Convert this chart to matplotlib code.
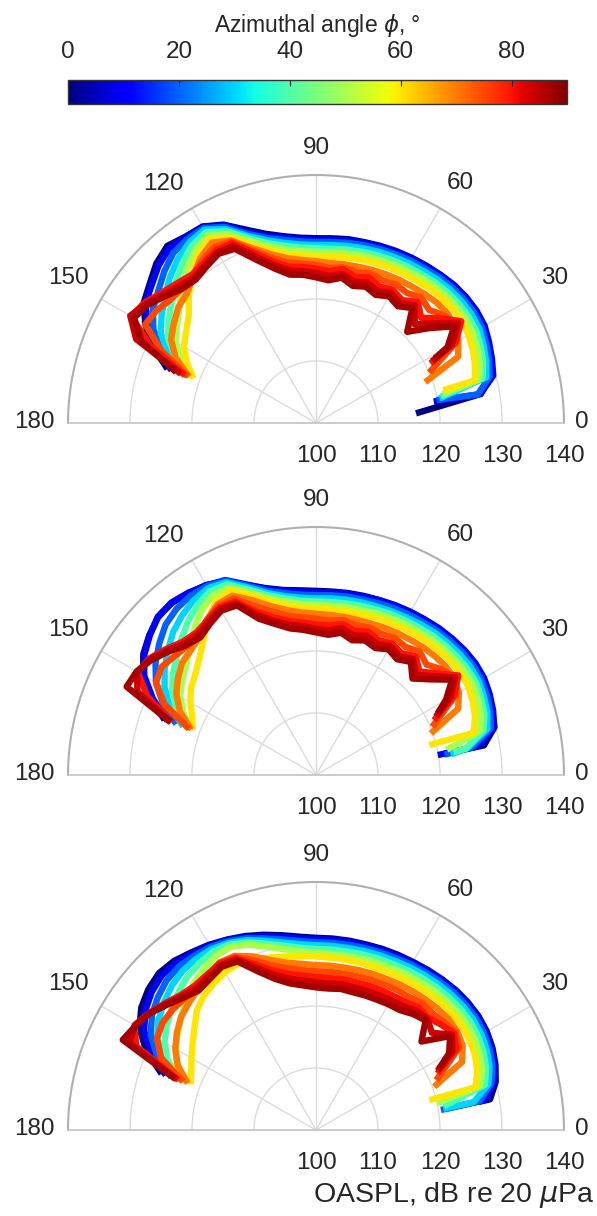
import numpy as np
import matplotlib
matplotlib.use('Agg')
import matplotlib.pyplot as plt
from matplotlib import cm, colors
from matplotlib.transforms import ScaledTranslation

plt.rcParams['font.family'] = ['Liberation Sans', 'DejaVu Sans']
plt.rcParams['mathtext.fontset'] = 'dejavusans'

nan = float('nan')

# ------------------------------------------------------------
# data: OASPL (dB) vs polar angle theta (deg), one row per azimuth phi
# ------------------------------------------------------------
PHI = [0, 10, 20, 30, 40, 50, 60, 70, 75, 80, 84, 87]

THETA = [10, 15, 20, 25, 30, 35, 40, 45, 50, 55, 60, 65, 70, 75, 80, 85,
         90, 95, 100, 105, 110, 115, 120, 125, 130, 135, 140, 145, 150, 155, 160]

# downstream end point of each curve (theta, OASPL)
tail_theta_a = [5.5, 10.3, 10.8, 11.2, 12.0, 13.0, 14.5, 20.5, 24.0, 27.5, 28.0, 28.5]
tail_spl_a = [116.2, 119.3, 119.8, 120.3, 120.6, 121.0, 121.2, 118.8, 120.0, 120.8, 121.2, 121.8]

spl_a = [
    [127.0, 129.3, 129.8, 130.6, 131.2, 131.4, 131.5, 131.4, 131.2, 131.0, 130.8, 130.6, 130.4, 130.2, 130.1, 129.9,
     129.8, 130.0, 130.6, 131.6, 133.2, 135.3, 136.6, 136.7, 137.3, 136.4, 135.0, 133.9, 131.8, 129.0, 125.5],
    [126.9, 129.6, 130.2, 130.8, 131.4, 131.6, 131.6, 131.5, 131.2, 130.9, 130.7, 130.5, 130.3, 130.1, 129.9, 129.7,
     129.6, 129.8, 130.4, 131.3, 132.9, 135.2, 136.5, 136.6, 136.8, 135.9, 134.6, 133.6, 131.3, 128.3, 124.8],
    [126.5, 129.0, 129.7, 130.3, 130.9, 131.1, 131.1, 131.0, 130.8, 130.5, 130.3, 130.1, 129.9, 129.7, 129.5, 129.3,
     129.2, 129.4, 130.0, 130.9, 132.5, 134.9, 136.3, 136.2, 135.8, 134.6, 133.2, 132.1, 130.3, 127.6, 124.0],
    [nan, 128.4, 129.2, 129.8, 130.4, 130.6, 130.6, 130.5, 130.3, 130.0, 129.8, 129.6, 129.4, 129.2, 129.0, 128.8,
     128.7, 128.9, 129.5, 130.5, 132.1, 134.5, 136.0, 135.6, 134.6, 133.3, 131.8, 130.4, 128.9, 126.2, 123.0],
    [nan, 127.8, 128.7, 129.3, 129.8, 130.0, 130.0, 129.9, 129.7, 129.4, 129.2, 129.0, 128.8, 128.6, 128.4, 128.2,
     128.2, 128.4, 129.0, 130.0, 131.7, 134.1, 135.5, 134.9, 133.6, 132.0, 130.4, 129.0, 127.6, 125.0, 122.2],
    [nan, 127.2, 128.1, 128.7, 129.2, 129.4, 129.4, 129.3, 129.1, 128.8, 128.6, 128.4, 128.2, 128.0, 127.8, 127.6,
     127.6, 127.8, 128.4, 129.5, 131.2, 133.6, 134.9, 134.0, 132.4, 130.6, 128.8, 127.4, 126.2, 124.0, 121.6],
    [nan, 126.5, 127.3, 127.9, 128.4, 128.7, 128.7, 128.6, 128.4, 128.1, 127.9, 127.7, 127.5, 127.3, 127.1, 126.9,
     126.9, 127.1, 127.7, 128.9, 130.6, 133.0, 134.3, 133.2, 131.2, 129.0, 126.8, 125.6, 124.6, 123.0, 121.0],
    [nan, nan, nan, 125.3, 126.5, 127.4, 127.6, 127.5, 127.2, 126.9, 126.7, 126.5, 126.3, 126.1, 126.0, 125.9,
     126.1, 126.4, 127.0, 128.2, 130.0, 132.5, 133.6, 132.5, 130.8, 129.5, 129.0, 128.0, 127.0, 125.0, 121.8],
    [nan, nan, nan, nan, 126.2, 127.6, 127.0, 125.8, 126.4, 125.6, 125.8, 125.4, 125.7, 125.2, 125.5, 125.1,
     125.5, 125.8, 126.3, 127.6, 129.6, 132.3, 132.8, 132.0, 131.0, 130.6, 130.8, 131.5, 131.8, 127.5, 122.0],
    [nan, nan, nan, nan, 126.0, 128.6, 126.3, 124.0, 125.5, 124.2, 124.8, 124.3, 125.0, 124.4, 125.2, 124.6,
     124.9, 125.3, 125.6, 127.0, 129.2, 132.0, 132.2, 131.5, 131.2, 131.8, 132.6, 133.8, 134.4, 129.5, 122.5],
    [nan, nan, nan, nan, 125.3, 128.0, 125.0, 122.5, 124.8, 123.6, 124.2, 123.5, 124.1, 123.6, 124.4, 123.8,
     124.2, 124.6, 125.0, 126.4, 128.6, 131.5, 131.8, 131.1, 130.6, 131.2, 132.2, 133.5, 134.6, 132.0, 123.2],
    [nan, nan, nan, nan, 124.5, 127.2, 123.8, 120.8, 124.2, 123.0, 123.6, 122.8, 123.4, 122.9, 123.8, 123.1,
     123.5, 124.0, 124.3, 125.8, 128.0, 131.0, 131.5, 130.8, 130.2, 130.6, 131.8, 133.2, 133.9, 131.0, 124.0],
]

tail_theta_b = [9.5, 9.3, 9.0, 8.7, 9.5, 11.0, 14.8, 19.9, 22.5, 24.9, 26.0, 26.9]
tail_spl_b = [121.0, 119.9, 121.0, 122.0, 122.5, 121.5, 118.9, 119.7, 120.3, 121.0, 121.5, 122.0]

spl_b = [
    [127.5, 129.8, 130.3, 130.8, 131.2, 131.3, 131.2, 131.0, 130.8, 130.6, 130.4, 130.2, 130.0, 129.9, 129.8, 129.7,
     129.7, 129.9, 130.3, 131.2, 132.6, 134.5, 135.4, 135.8, 136.2, 136.0, 135.1, 134.0, 132.2, 129.5, 126.0],
    [126.5, 129.7, 130.4, 130.9, 131.3, 131.4, 131.3, 131.1, 130.9, 130.6, 130.4, 130.2, 130.0, 129.8, 129.7, 129.6,
     129.5, 129.7, 130.2, 131.1, 132.7, 134.7, 135.3, 135.9, 136.3, 136.1, 135.0, 133.8, 132.0, 129.0, 125.5],
    [125.5, 129.2, 129.9, 130.4, 130.8, 130.9, 130.8, 130.6, 130.4, 130.1, 129.9, 129.7, 129.5, 129.3, 129.2, 129.1,
     129.0, 129.2, 129.8, 130.8, 132.5, 134.6, 135.2, 135.3, 135.0, 134.3, 133.0, 131.6, 129.8, 127.2, 124.0],
    [124.8, 128.6, 129.4, 129.9, 130.3, 130.4, 130.3, 130.1, 129.9, 129.6, 129.3, 129.1, 128.9, 128.8, 128.7, 128.6,
     128.5, 128.7, 129.3, 130.4, 132.2, 134.3, 134.8, 134.4, 133.6, 132.6, 131.2, 129.8, 128.2, 125.9, 122.8],
    [124.5, 128.0, 128.9, 129.4, 129.8, 129.8, 129.7, 129.5, 129.3, 129.0, 128.8, 128.6, 128.4, 128.2, 128.1, 128.0,
     128.0, 128.2, 128.9, 130.0, 131.8, 133.9, 134.2, 133.4, 132.2, 130.8, 129.4, 128.2, 126.8, 124.8, 122.0],
    [nan, 127.4, 128.3, 128.8, 129.2, 129.2, 129.1, 128.9, 128.7, 128.4, 128.2, 128.0, 127.8, 127.6, 127.5, 127.4,
     127.5, 127.7, 128.4, 129.5, 131.3, 133.3, 133.4, 132.3, 130.6, 128.8, 127.4, 126.4, 125.3, 123.6, 121.5],
    [nan, 126.3, 127.3, 127.9, 128.4, 128.5, 128.4, 128.2, 128.0, 127.7, 127.5, 127.3, 127.1, 126.9, 126.9, 126.8,
     126.9, 127.1, 127.8, 129.0, 130.9, 132.8, 132.3, 130.5, 128.3, 126.6, 125.4, 124.6, 123.4, 122.0, 121.2],
    [nan, nan, nan, 125.3, 126.6, 127.2, 127.3, 127.1, 126.9, 126.6, 126.4, 126.2, 126.0, 125.9, 125.9, 125.9,
     126.0, 126.3, 127.0, 128.2, 130.0, 131.9, 131.8, 130.6, 129.2, 128.5, 128.2, 127.2, 126.0, 124.2, 121.4],
    [nan, nan, nan, nan, 126.2, 127.4, 126.5, 125.2, 126.0, 125.2, 125.5, 125.1, 125.3, 125.0, 125.4, 125.0,
     125.2, 125.5, 126.1, 127.3, 129.0, 131.4, 131.5, 130.6, 129.6, 129.4, 129.8, 130.4, 129.8, 127.0, 121.8],
    [nan, nan, nan, nan, 125.8, 128.0, 125.5, 123.6, 125.0, 124.0, 124.5, 124.0, 124.6, 124.1, 124.7, 124.2,
     124.3, 124.7, 125.2, 126.3, 128.0, 130.9, 131.2, 130.5, 130.0, 130.4, 131.6, 132.8, 133.2, 130.0, 124.8],
    [nan, nan, nan, nan, 125.0, 127.4, 124.8, 122.8, 124.4, 123.4, 124.0, 123.3, 123.9, 123.3, 124.0, 123.4,
     123.6, 124.1, 124.6, 125.7, 127.4, 130.5, 130.9, 130.2, 129.6, 130.0, 131.3, 132.6, 133.3, 131.8, 124.9],
    [nan, nan, nan, nan, 124.2, 126.8, 124.0, 122.0, 123.8, 122.8, 123.4, 122.6, 123.1, 122.5, 123.3, 122.7,
     123.0, 123.5, 124.0, 125.2, 126.8, 130.2, 130.6, 129.8, 129.0, 129.6, 131.0, 132.4, 133.4, 133.7, 125.0],
]

tail_theta_c = [9.8, 9.3, 9.1, 9.5, 10.5, 12.5, 14.8, 20.1, 22.5, 25.0, 26.0, 26.5]
tail_spl_c = [126.7, 121.5, 120.4, 120.8, 121.0, 120.0, 118.9, 120.3, 121.0, 121.6, 121.8, 122.2]

spl_c = [
    [128.5, 130.0, 130.8, 131.4, 131.8, 132.0, 132.0, 131.9, 131.7, 131.5, 131.3, 131.2, 131.1, 131.0, 131.0, 131.0,
     131.0, 131.3, 131.9, 132.6, 133.3, 133.9, 134.5, 135.0, 135.6, 135.8, 135.3, 134.4, 132.9, 130.2, 126.5],
    [127.5, 129.8, 130.7, 131.3, 131.7, 131.9, 131.9, 131.8, 131.6, 131.4, 131.2, 131.0, 130.9, 130.8, 130.8, 130.8,
     130.8, 131.1, 131.7, 132.4, 133.2, 133.8, 134.4, 134.8, 135.2, 135.2, 134.6, 133.6, 132.0, 129.3, 125.8],
    [126.8, 129.3, 130.3, 130.9, 131.3, 131.5, 131.5, 131.4, 131.2, 131.0, 130.8, 130.6, 130.5, 130.4, 130.3, 130.3,
     130.3, 130.6, 131.2, 132.0, 132.9, 133.6, 134.1, 134.3, 134.4, 134.1, 133.3, 132.3, 130.8, 128.3, 124.8],
    [125.8, 128.8, 129.8, 130.4, 130.8, 131.0, 131.0, 130.9, 130.7, 130.5, 130.3, 130.1, 130.0, 129.9, 129.8, 129.8,
     129.8, 130.1, 130.7, 131.6, 132.6, 133.3, 133.7, 133.7, 133.5, 132.9, 132.0, 131.0, 129.6, 127.4, 124.0],
    [nan, 128.2, 129.2, 129.8, 130.2, 130.4, 130.4, 130.3, 130.1, 129.9, 129.7, 129.5, 129.4, 129.3, 129.2, 129.2,
     129.2, 129.5, 130.2, 131.1, 132.2, 133.0, 133.2, 132.8, 132.3, 131.4, 130.4, 129.4, 128.2, 126.4, 123.2],
    [nan, 127.4, 128.5, 129.1, 129.5, 129.7, 129.7, 129.6, 129.4, 129.2, 129.0, 128.8, 128.7, 128.6, 128.5, 128.5,
     128.6, 128.9, 129.6, 130.6, 131.8, 132.6, 132.4, 131.6, 130.8, 129.6, 128.4, 127.2, 126.2, 124.8, 122.3],
    [nan, 126.6, 127.7, 128.3, 128.7, 128.9, 128.9, 128.8, 128.6, 128.4, 128.2, 128.0, 127.9, 127.9, 127.9, 127.9,
     128.0, 128.2, 128.4, 128.8, 129.2, 129.6, 129.4, 128.8, 128.2, 127.2, 125.6, 124.3, 123.2, 122.2, 121.5],
    [nan, nan, nan, 126.0, 127.3, 127.8, 127.9, 127.7, 127.5, 127.3, 127.1, 126.9, 126.8, 126.7, 126.6, 126.6,
     126.6, 126.9, 127.4, 128.4, 129.8, 131.0, 131.2, 130.4, 129.6, 129.0, 128.4, 127.4, 126.2, 124.6, 122.0],
    [nan, nan, nan, nan, 126.7, 127.5, 127.0, 126.6, 126.7, 126.2, 126.1, 125.9, 125.8, 125.7, 125.6, 125.6,
     125.6, 125.9, 126.5, 127.5, 129.1, 130.8, 131.1, 130.5, 130.0, 130.0, 130.2, 130.2, 129.6, 127.6, 122.8],
    [nan, nan, nan, nan, 126.1, 127.2, 126.4, 125.6, 125.8, 125.2, 125.0, 124.9, 124.8, 124.7, 124.7, 124.6,
     124.7, 125.0, 125.6, 126.6, 128.4, 130.6, 131.0, 130.6, 130.4, 130.8, 131.8, 132.9, 133.8, 132.0, 123.6],
    [nan, nan, nan, nan, 125.4, 126.8, 124.4, 125.4, 125.1, 124.4, 124.2, 124.0, 123.9, 123.8, 123.9, 123.7,
     123.8, 124.2, 124.8, 125.9, 127.8, 130.3, 130.7, 130.2, 129.9, 130.5, 131.6, 132.8, 133.7, 133.2, 123.9],
    [nan, nan, nan, nan, 124.8, 126.4, 122.2, 125.0, 124.4, 123.6, 123.4, 123.2, 123.1, 123.0, 123.1, 122.9,
     123.0, 123.4, 124.0, 125.2, 127.2, 130.0, 130.4, 129.8, 129.4, 130.2, 131.4, 132.8, 133.6, 134.4, 124.2],
]

theta_ticks = [0, 30, 60, 90, 120, 150, 180]
r_ticks = [100, 110, 120, 130, 140]
cbar_ticks = [0, 20, 40, 60, 80]

# ------------------------------------------------------------
# layout (pixels of the 597x1216 figure)
# ------------------------------------------------------------
W, H = 597, 1216
CX, R = 316, 248
BASE_Y = [423, 775, 1130]
TXT = '#262626'
# offset (px, y up) from the point on the outer circle to the label centre
LABEL_OFF = {0: (18, 1), 30: (24, 21.5), 60: (20, 25), 90: (0, 27),
             120: (-28.5, 24), 150: (-32.7, 21.5), 180: (-34, 1)}

cmap = plt.get_cmap('jet')
norm = colors.Normalize(vmin=0, vmax=90)

fig = plt.figure(figsize=(W / 100, H / 100), dpi=100)


def draw_panel(ax, spl, tail_theta, tail_spl):
    for k, phi in enumerate(PHI):
        th = np.array([tail_theta[k]] + THETA, dtype=float)
        r = np.array([tail_spl[k]] + spl[k], dtype=float)
        ok = np.isfinite(r)
        ax.plot(np.deg2rad(th[ok]), r[ok], color=cmap(norm(phi)), lw=4.6,
                solid_joinstyle='round', solid_capstyle='butt', zorder=3)

    ax.set_thetamin(0)
    ax.set_thetamax(180)
    ax.set_rlim(100, 140)
    ax.set_rticks(r_ticks)
    ax.set_thetagrids(theta_ticks)
    ax.set_xticklabels([])
    ax.set_yticklabels([])
    ax.tick_params(length=0)
    ax.grid(True, color='#dcdcdc', lw=1.0)
    ax.spines['polar'].set_color('#b0b0b0')
    ax.spines['polar'].set_linewidth(1.5)
    for s in ('start', 'end'):
        ax.spines[s].set_color('#c4c4c4')
        ax.spines[s].set_linewidth(1.2)
    ax.spines['inner'].set_visible(False)

    # theta labels, placed just outside the outer circle
    for t in theta_ticks:
        dx, dy = LABEL_OFF[t]
        tr = ax.transData + ScaledTranslation(dx / 100, dy / 100, fig.dpi_scale_trans)
        ax.text(np.deg2rad(t), 140, str(t), transform=tr, ha='center', va='center',
                fontsize=17.5, color=TXT, clip_on=False)
    # radial labels under the baseline
    for rv in r_ticks:
        ax.annotate(str(rv), xy=(0, rv), xytext=(0, -24), textcoords='offset points',
                    ha='center', va='center', fontsize=17.5, color=TXT, annotation_clip=False)


# polar axes keep a square box; the half disc sits in its middle
for by, spl, tth, tsp in zip(BASE_Y, [spl_a, spl_b, spl_c],
                             [tail_theta_a, tail_theta_b, tail_theta_c],
                             [tail_spl_a, tail_spl_b, tail_spl_c]):
    ax = fig.add_axes([(CX - R) / W, (H - by - R / 2) / H, 2 * R / W, 2 * R / H],
                      projection='polar')
    draw_panel(ax, spl, tth, tsp)

# colorbar on top
cax = fig.add_axes([68 / W, (H - 104) / H, 499 / W, 24 / H])
sm = cm.ScalarMappable(norm=norm, cmap=cmap)
cb = fig.colorbar(sm, cax=cax, orientation='horizontal', ticks=cbar_ticks)
cax.xaxis.set_ticks_position('top')
cax.xaxis.set_label_position('top')
cax.tick_params(direction='in', length=4, width=0.8, color=TXT, labelcolor=TXT,
                labelsize=17.5, pad=12)
cb.set_label(r'Azimuthal angle $\phi$, °', fontsize=16.5, color=TXT, labelpad=7)
cb.outline.set_edgecolor('#333333')
cb.outline.set_linewidth(1.0)

fig.text(595 / W, 1 - 1195 / H, r'OASPL, dB re 20 $\mu$Pa', ha='right', va='center',
         fontsize=20.5, color=TXT)

fig.savefig('out.png', dpi=100)
